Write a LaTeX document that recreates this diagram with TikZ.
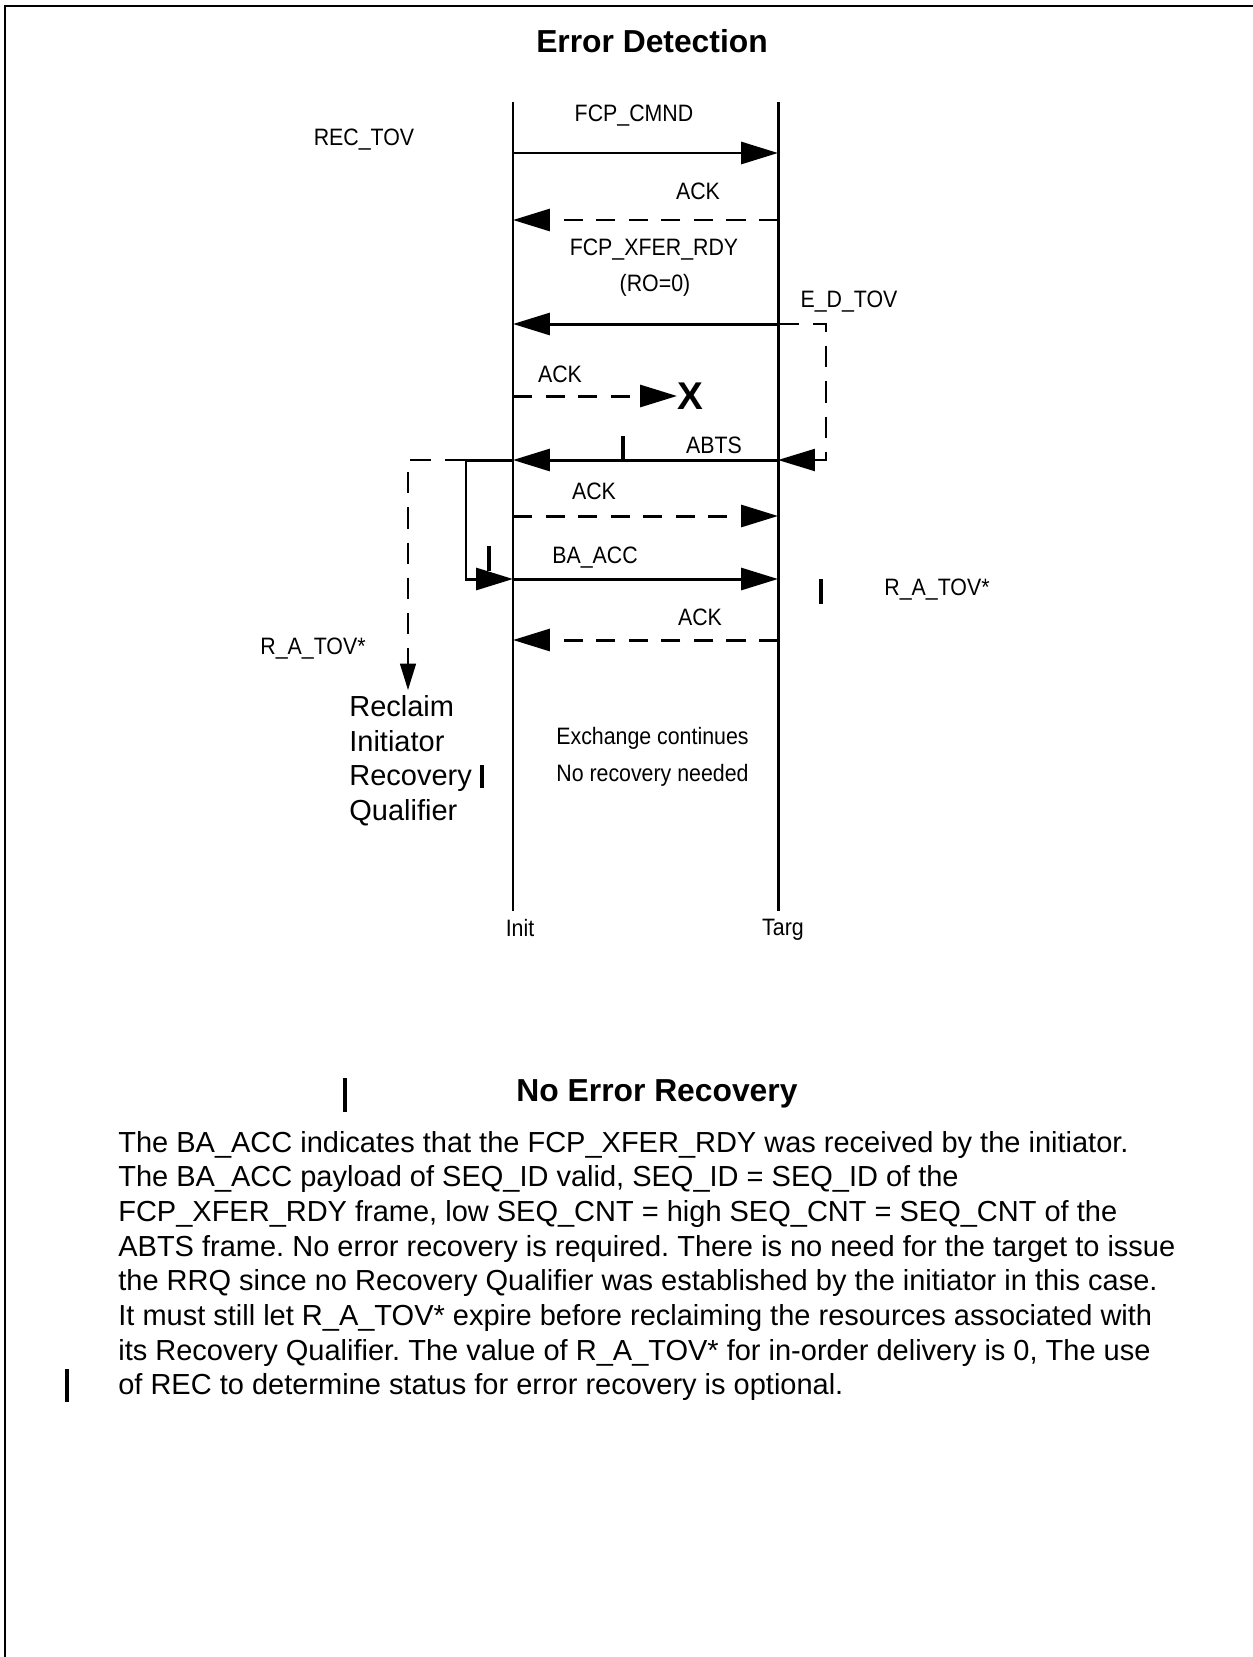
\documentclass[tikz,border=0pt]{standalone}
\usepackage{fontspec}
\setmainfont{Liberation Sans}
\newfontfamily\narrowfont[FakeStretch=0.9]{Liberation Sans}
\usetikzlibrary{arrows.meta}

\tikzset{
  lifeline/.style={line width=1.7pt},
  msg/.style={line width=1.7pt, -{Triangle[length=21pt,width=12.5pt]}},
  ackmsg/.style={msg, dash pattern=on 11pt off 7.5pt},
  timer/.style={line width=1.3pt, dash pattern=on 12pt off 8pt},
  lbl/.style={font=\narrowfont\fontsize{13.5}{16}\selectfont, inner sep=0pt},
  heading/.style={font=\bfseries\fontsize{18.1}{21}\selectfont, inner sep=0pt},
  chgbar/.style={line width=2.8pt},
}

\begin{document}
\frenchspacing
\begin{tikzpicture}[x=0.02cm, y=-0.02cm]
    \useasboundingbox (0,0) rectangle (1253,1657);
    % page frame, only top and left edge
    \draw[line width=1.7pt] (5,1657) -- (5,6) -- (1253,6);

    \node[heading] (title) at (652,41) {Error Detection};

    % lifelines
    \coordinate (init-top) at (513,102);
    \coordinate (init-bot) at (513,911);
    \coordinate (targ-top) at (778,102);
    \coordinate (targ-bot) at (778,911);
    \draw[lifeline] (init-top) -- (init-bot);
    \draw[lifeline] (targ-top) -- (targ-bot);
    \node[lbl] (init) at (520,928) {Init};
    \node[lbl] (targ) at (783,930) {Targ};

    % message levels on both lifelines
    \foreach \n/\y in {cmnd/153, ack1/220, xfer/324, ack2/396, abts/460, ack3/516, bacc/579, ack4/640}{
        \coordinate (i-\n) at (513,\y);
        \coordinate (t-\n) at (778,\y);
    }

    % frames
    \draw[msg] (i-cmnd) -- (t-cmnd);
    \draw[ackmsg] (t-ack1) -- (i-ack1);
    \draw[msg] (t-xfer) -- (i-xfer);
    \coordinate (lost) at (677,396);
    \draw[ackmsg] (i-ack2) -- (lost);
    \node[font=\bfseries\fontsize{22}{24}\selectfont, inner sep=0pt, anchor=west] (x) at (lost) {X};
    \draw[msg] (t-abts) -- (i-abts);
    \draw[ackmsg] (i-ack3) -- (t-ack3);
    \draw[msg] (i-bacc) -- (t-bacc);
    \draw[ackmsg] (t-ack4) -- (i-ack4);

    % ABTS handled at the initiator, BA_ACC sent back
    \coordinate (ret-a) at (466,460);
    \coordinate (ret-b) at (466,579);
    \draw[msg] (i-abts) -- (ret-a) -- (ret-b) -- (i-bacc);

    % timers
    \coordinate (edtov-a) at (826,324);
    \coordinate (edtov-b) at (826,460);
    \draw[timer, -{Triangle[length=21pt,width=12.5pt]}] (t-xfer) -- (edtov-a) -- (edtov-b) -- (t-abts);
    \coordinate (ratov-a) at (408,460);
    \coordinate (ratov-b) at (408,690);
    \draw[timer, line width=1.1pt, -{Triangle[length=15pt,width=9pt]}] (ret-a) -- (ratov-a) -- (ratov-b);

    % labels
    \node[lbl] (rectov) at (364,140) {REC\_TOV};
    \node[lbl] (cmnd-lbl) at (634,116) {FCP\_CMND};
    \node[lbl] (ack1-lbl) at (698,191) {ACK};
    \node[lbl] (xfer-lbl) at (654,250) {FCP\_XFER\_RDY};
    \node[lbl] (ro-lbl) at (655,285) {(RO=0)};
    \node[lbl] (edtov) at (849,302) {E\_D\_TOV};
    \node[lbl] (ack2-lbl) at (560,374) {ACK};
    \node[lbl] (abts-lbl) at (714,445) {ABTS};
    \node[lbl] (ack3-lbl) at (594,491) {ACK};
    \node[lbl] (bacc-lbl) at (595,558) {BA\_ACC};
    \node[lbl] (ratov-r) at (937,590) {R\_A\_TOV*};
    \node[lbl] (ack4-lbl) at (700,617) {ACK};
    \node[lbl] (ratov-l) at (313,649) {R\_A\_TOV*};
    \node[font=\fontsize{16.5}{19.8}\selectfont, align=left, anchor=north west, inner sep=0pt] (reclaim) at (349,695)
        {Reclaim\\Initiator\\Recovery\\Qualifier};
    \node[lbl, font=\narrowfont\fontsize{13.5}{21}\selectfont, align=left, anchor=north west] (exch) at (556,727)
        {Exchange continues\\No recovery needed};

    % change bars
    \foreach \x/\ya/\yb in {623/436/462, 489/546/571, 821/579/604, 482/765/788, 345/1078/1112, 67/1369/1402}
        \draw[chgbar] (\x,\ya) -- (\x,\yb);

    \node[heading] (subtitle) at (657,1094) {No Error Recovery};
    \node[font=\fontsize{16.5}{19.7}\selectfont, align=left, anchor=north west, inner sep=0pt] (para) at (118,1131)
        {The BA\_ACC indicates that the FCP\_XFER\_RDY was received by the initiator.\\
         The BA\_ACC payload of SEQ\_ID valid, SEQ\_ID = SEQ\_ID of the\\
         FCP\_XFER\_RDY frame, low SEQ\_CNT = high SEQ\_CNT = SEQ\_CNT of the\\
         ABTS frame. No error recovery is required. There is no need for the target to issue\\
         the RRQ since no Recovery Qualifier was established by the initiator in this case.\\
         It must still let R\_A\_TOV* expire before reclaiming the resources associated with\\
         its Recovery Qualifier. The value of R\_A\_TOV* for in-order delivery is 0, The use\\
         of REC to determine status for error recovery is optional.};
\end{tikzpicture}
\end{document}
